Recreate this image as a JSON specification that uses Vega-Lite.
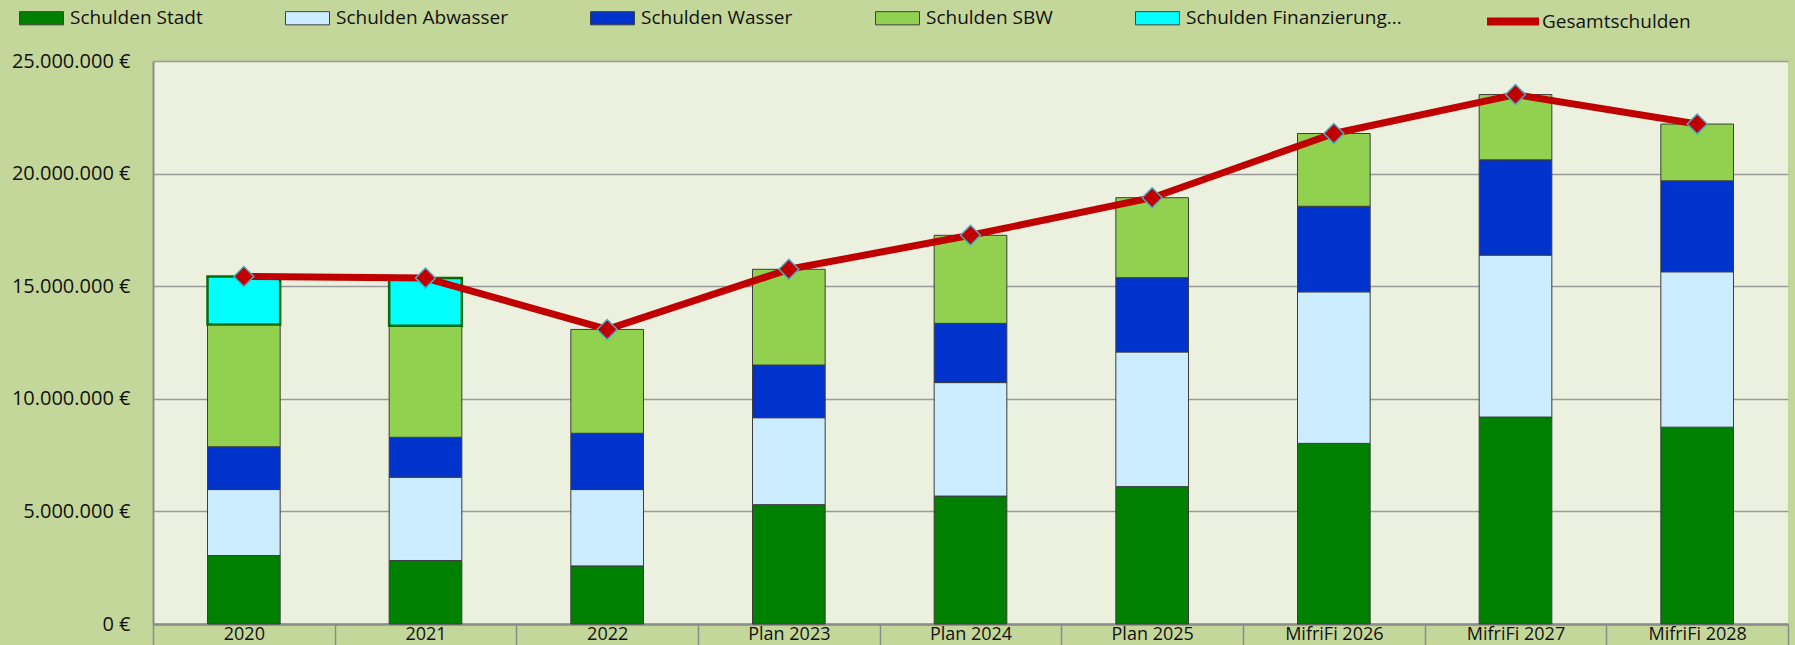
{
  "$schema": "https://vega.github.io/schema/vega-lite/v6.json",
  "autosize": "none",
  "width": 1635,
  "height": 563,
  "padding": {"left": 153, "top": 61, "right": 7, "bottom": 21},
  "background": "#C4D79B",
  "config": {
    "view": {"fill": "#EBF1DE", "stroke": null},
    "font": "Open Sans",
    "axis": {"labelFont": "Open Sans", "labelColor": "#111111", "labelFontSize": 20, "title": null},
    "legend": {"labelFont": "Open Sans", "labelColor": "#111111", "labelFontSize": 19, "padding": 0}
  },
  "encoding": {
    "x": {
      "field": "Jahr",
      "type": "nominal",
      "sort": ["2020", "2021", "2022", "Plan 2023", "Plan 2024", "Plan 2025", "MifriFi 2026", "MifriFi 2027", "MifriFi 2028"],
      "scale": {"paddingInner": 0, "paddingOuter": 0},
      "axis": {
        "labelAngle": 0,
        "tickBand": "extent",
        "ticks": true,
        "tickSize": 30,
        "tickColor": "#8c8c8c",
        "tickWidth": 1.5,
        "domain": true,
        "domainColor": "#8c8c8c",
        "domainWidth": 2.5,
        "labelPadding": -28.5,
        "labelFontSize": 18,
        "labelBaseline": "top",
        "grid": false
      }
    }
  },
  "layer": [
    {
      "data": {"values": [
        {"Jahr": "2020", "Serie": "Schulden Stadt", "Wert": 3040000},
        {"Jahr": "2020", "Serie": "Schulden Abwasser", "Wert": 2930000},
        {"Jahr": "2020", "Serie": "Schulden Wasser", "Wert": 1900000},
        {"Jahr": "2020", "Serie": "Schulden SBW", "Wert": 5430000},
        {"Jahr": "2020", "Serie": "Schulden Finanzierung...", "Wert": 2130000},
        {"Jahr": "2021", "Serie": "Schulden Stadt", "Wert": 2820000},
        {"Jahr": "2021", "Serie": "Schulden Abwasser", "Wert": 3700000},
        {"Jahr": "2021", "Serie": "Schulden Wasser", "Wert": 1770000},
        {"Jahr": "2021", "Serie": "Schulden SBW", "Wert": 4950000},
        {"Jahr": "2021", "Serie": "Schulden Finanzierung...", "Wert": 2120000},
        {"Jahr": "2022", "Serie": "Schulden Stadt", "Wert": 2580000},
        {"Jahr": "2022", "Serie": "Schulden Abwasser", "Wert": 3390000},
        {"Jahr": "2022", "Serie": "Schulden Wasser", "Wert": 2500000},
        {"Jahr": "2022", "Serie": "Schulden SBW", "Wert": 4610000},
        {"Jahr": "Plan 2023", "Serie": "Schulden Stadt", "Wert": 5300000},
        {"Jahr": "Plan 2023", "Serie": "Schulden Abwasser", "Wert": 3860000},
        {"Jahr": "Plan 2023", "Serie": "Schulden Wasser", "Wert": 2340000},
        {"Jahr": "Plan 2023", "Serie": "Schulden SBW", "Wert": 4250000},
        {"Jahr": "Plan 2024", "Serie": "Schulden Stadt", "Wert": 5680000},
        {"Jahr": "Plan 2024", "Serie": "Schulden Abwasser", "Wert": 5040000},
        {"Jahr": "Plan 2024", "Serie": "Schulden Wasser", "Wert": 2630000},
        {"Jahr": "Plan 2024", "Serie": "Schulden SBW", "Wert": 3910000},
        {"Jahr": "Plan 2025", "Serie": "Schulden Stadt", "Wert": 6100000},
        {"Jahr": "Plan 2025", "Serie": "Schulden Abwasser", "Wert": 5980000},
        {"Jahr": "Plan 2025", "Serie": "Schulden Wasser", "Wert": 3300000},
        {"Jahr": "Plan 2025", "Serie": "Schulden SBW", "Wert": 3550000},
        {"Jahr": "MifriFi 2026", "Serie": "Schulden Stadt", "Wert": 8020000},
        {"Jahr": "MifriFi 2026", "Serie": "Schulden Abwasser", "Wert": 6730000},
        {"Jahr": "MifriFi 2026", "Serie": "Schulden Wasser", "Wert": 3800000},
        {"Jahr": "MifriFi 2026", "Serie": "Schulden SBW", "Wert": 3230000},
        {"Jahr": "MifriFi 2027", "Serie": "Schulden Stadt", "Wert": 9190000},
        {"Jahr": "MifriFi 2027", "Serie": "Schulden Abwasser", "Wert": 7190000},
        {"Jahr": "MifriFi 2027", "Serie": "Schulden Wasser", "Wert": 4230000},
        {"Jahr": "MifriFi 2027", "Serie": "Schulden SBW", "Wert": 2900000},
        {"Jahr": "MifriFi 2028", "Serie": "Schulden Stadt", "Wert": 8740000},
        {"Jahr": "MifriFi 2028", "Serie": "Schulden Abwasser", "Wert": 6900000},
        {"Jahr": "MifriFi 2028", "Serie": "Schulden Wasser", "Wert": 4040000},
        {"Jahr": "MifriFi 2028", "Serie": "Schulden SBW", "Wert": 2520000}
      ]},
      "transform": [
        {"calculate": "indexof(['Schulden Stadt', 'Schulden Abwasser', 'Schulden Wasser', 'Schulden SBW', 'Schulden Finanzierung...'], datum.Serie)", "as": "Stapelfolge"}
      ],
      "mark": {"type": "bar", "width": {"band": 0.4}},
      "encoding": {
        "y": {
          "field": "Wert",
          "type": "quantitative",
          "stack": "zero",
          "scale": {"domain": [0, 25000000], "nice": false},
          "axis": {
            "values": [0, 5000000, 10000000, 15000000, 20000000, 25000000],
            "labelExpr": "replace(format(datum.value, ',.0f'), regexp(',', 'g'), '.') + ' €'",
            "grid": true,
            "gridColor": "#9a9a9a",
            "gridWidth": 1.5,
            "ticks": false,
            "domain": true,
            "domainColor": "#8c8c8c",
            "domainWidth": 2,
            "labelPadding": 23
          }
        },
        "order": {"field": "Stapelfolge", "type": "quantitative", "sort": "ascending"},
        "fill": {
          "field": "Serie",
          "type": "nominal",
          "sort": ["Schulden Stadt", "Schulden Abwasser", "Schulden Wasser", "Schulden SBW", "Schulden Finanzierung..."],
          "scale": {
            "domain": ["Schulden Stadt", "Schulden Abwasser", "Schulden Wasser", "Schulden SBW", "Schulden Finanzierung..."],
            "range": ["#008000", "#CCECFF", "#0033CC", "#92D050", "#00FFFF"]
          },
          "legend": {
            "orient": "none",
            "legendX": -134,
            "legendY": -54.5,
            "direction": "horizontal",
            "columns": 5,
            "title": null,
            "symbolType": "M-1,-0.6H3V0.6H-1Z",
            "symbolSize": 484,
            "symbolStrokeColor": "#404040",
            "symbolStrokeWidth": 1,
            "labelOffset": 28,
            "columnPadding": 80,
            "labelLimit": 400
          }
        },
        "stroke": {
          "condition": {"test": "datum.Serie === 'Schulden Finanzierung...'", "value": "#0A6A0A"},
          "value": "#3c3c3c"
        },
        "strokeWidth": {
          "condition": {"test": "datum.Serie === 'Schulden Finanzierung...'", "value": 2.5},
          "value": 1
        }
      }
    },
    {
      "data": {"values": [
        {"Jahr": "2020", "Serie": "Gesamtschulden", "Gesamt": 15430000},
        {"Jahr": "2021", "Serie": "Gesamtschulden", "Gesamt": 15360000},
        {"Jahr": "2022", "Serie": "Gesamtschulden", "Gesamt": 13080000},
        {"Jahr": "Plan 2023", "Serie": "Gesamtschulden", "Gesamt": 15750000},
        {"Jahr": "Plan 2024", "Serie": "Gesamtschulden", "Gesamt": 17260000},
        {"Jahr": "Plan 2025", "Serie": "Gesamtschulden", "Gesamt": 18930000},
        {"Jahr": "MifriFi 2026", "Serie": "Gesamtschulden", "Gesamt": 21780000},
        {"Jahr": "MifriFi 2027", "Serie": "Gesamtschulden", "Gesamt": 23510000},
        {"Jahr": "MifriFi 2028", "Serie": "Gesamtschulden", "Gesamt": 22200000}
      ]},
      "layer": [
        {
          "mark": {"type": "line", "strokeWidth": 7, "strokeJoin": "round"},
          "encoding": {
            "y": {"field": "Gesamt", "type": "quantitative"},
            "stroke": {
              "field": "Serie",
              "type": "nominal",
              "scale": {"domain": ["Gesamtschulden"], "range": ["#C00000"]},
              "legend": {
                "orient": "none",
                "legendX": 1330,
                "legendY": -56.5,
                "title": null,
                "symbolType": "M-1,0H3",
                "symbolSize": 676,
                "symbolStrokeWidth": 8,
                "labelOffset": 25
              }
            }
          }
        },
        {
          "mark": {"type": "point", "shape": "diamond", "size": 400, "filled": true, "fill": "#C00000", "stroke": "#4BACC6", "strokeWidth": 1.5, "opacity": 1},
          "encoding": {
            "y": {"field": "Gesamt", "type": "quantitative"}
          }
        }
      ]
    }
  ]
}
